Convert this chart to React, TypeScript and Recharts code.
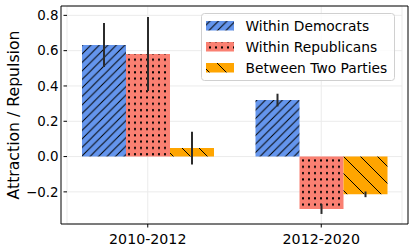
import * as React from "react"
import {
  BarChart,
  Bar,
  XAxis,
  YAxis,
  CartesianGrid,
  ErrorBar,
  ReferenceArea,
} from "recharts"

const periods = ["2010-2012", "2012-2020"]
const democrats = [0.632, 0.32]
const republicans = [0.581, -0.297]
const between = [0.048, -0.214]
const democratsErr = [0.125, 0.036]
const republicansErr = [0.21, 0.028]
const betweenErr = [0.093, 0.016]
const yTicks = [-0.2, 0, 0.2, 0.4, 0.6, 0.8]
const yDomain = [-0.382, 0.853]

const series = [
  { key: "dem", name: "Within Democrats", fill: "url(#hatchDem)" },
  { key: "rep", name: "Within Republicans", fill: "url(#dotsRep)" },
  { key: "bet", name: "Between Two Parties", fill: "url(#hatchBet)" },
]

const data = periods.map((p, i) => ({
  period: p,
  dem: democrats[i],
  rep: republicans[i],
  bet: between[i],
  demErr: democratsErr[i],
  repErr: republicansErr[i],
  betErr: betweenErr[i],
}))

const font = "'DejaVu Sans', sans-serif"

const formatTick = (v: number) => {
  const s = Math.abs(v).toFixed(1)
  return v < 0 ? `\u2212${s}` : s
}

// legend box drawn like matplotlib's, laid over the chart
const ChartLegend = () => (
  <svg
    width={195}
    height={69}
    style={{ position: "absolute", left: 201, top: 13, display: "block" }}
  >
    <rect
      x={0.5}
      y={0.5}
      width={193}
      height={67}
      rx={3}
      fill="#fff"
      fillOpacity={0.8}
      stroke="#d0d0d0"
    />
    {series.map((s, i) => (
      <g key={s.key}>
        <rect x={5} y={8 + i * 21} width={28} height={9.5} fill={s.fill} />
        <text
          x={44.5}
          y={17.5 + i * 21}
          fontSize={13.8}
          fontFamily={font}
          fill="#000"
        >
          {s.name}
        </text>
      </g>
    ))}
  </svg>
)

export default function App() {
  return (
    <div style={{ position: "absolute", left: 0, top: 0, width: 409, height: 252 }}>
      <BarChart
        width={409}
        height={252}
        data={data}
        margin={{ top: 6, right: 7, left: 0, bottom: 0 }}
        barCategoryGap={21}
        barGap={0}
      >
        <defs>
          <pattern id="hatchDem" patternUnits="userSpaceOnUse" width={8.5} height={8.5}>
            <rect width={8.5} height={8.5} fill="#6495ED" />
            <path d="M-1,1 L1,-1 M0,8.5 L8.5,0 M7.5,9.5 L9.5,7.5" stroke="#000" strokeWidth={1} />
          </pattern>
          <pattern id="dotsRep" patternUnits="userSpaceOnUse" width={6} height={6.3}>
            <rect width={6} height={6.3} fill="#FA8072" />
            <rect x={2} y={2} width={2} height={2} fill="#000" />
          </pattern>
          <pattern id="hatchBet" patternUnits="userSpaceOnUse" width={17} height={17}>
            <rect width={17} height={17} fill="#FFA500" />
            <path d="M0,0 L17,17 M-1,16 L1,18 M16,-1 L18,1" stroke="#000" strokeWidth={1} />
          </pattern>
        </defs>
        <CartesianGrid stroke="#ebebeb" strokeWidth={1} />
        <XAxis
          dataKey="period"
          height={28}
          padding={{ left: -6, right: -6 }}
          tickSize={3.5}
          tickMargin={6}
          tickLine={{ stroke: "#000" }}
          axisLine={false}
          tick={{ fill: "#000", fontSize: 14.2, fontFamily: font }}
        />
        <YAxis
          width={67}
          type="number"
          domain={yDomain}
          ticks={yTicks}
          allowDataOverflow
          tickFormatter={formatTick}
          tickSize={3.5}
          tickMargin={5}
          tickLine={{ stroke: "#000" }}
          axisLine={false}
          tick={{ fill: "#000", fontSize: 13.4, fontFamily: font }}
          label={{
            content: () => (
              <text
                x={19}
                y={115}
                transform="rotate(-90 19 115)"
                textAnchor="middle"
                fontSize={15.7}
                fontFamily={font}
                fill="#000"
              >
                Attraction / Repulsion
              </text>
            ),
          }}
        />
        {series.map((s) => (
          <Bar key={s.key} dataKey={s.key} name={s.name} fill={s.fill} isAnimationActive={false}>
            <ErrorBar dataKey={`${s.key}Err`} width={0} stroke="#2b2b2b" strokeWidth={2} />
          </Bar>
        ))}
        <ReferenceArea
          y1={yDomain[0]}
          y2={yDomain[1]}
          fill="none"
          fillOpacity={0}
          stroke="#000"
          strokeWidth={1}
          ifOverflow="visible"
        />
      </BarChart>
      <ChartLegend />
    </div>
  )
}
